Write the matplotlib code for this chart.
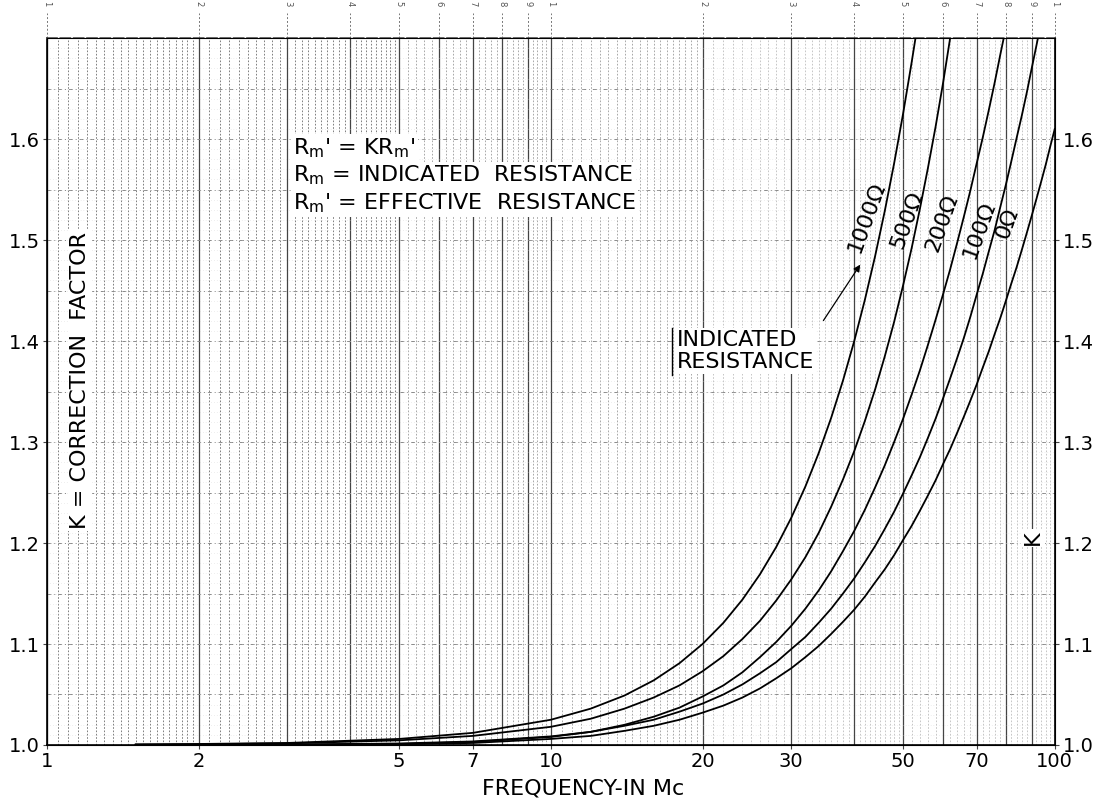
import numpy as np
import matplotlib.pyplot as plt
from matplotlib.transforms import blended_transform_factory

# correction factor K, one list pair per indicated resistance
freq_1000 = [1.5, 2, 3, 5, 7, 10, 12, 14, 16, 18, 20, 22, 24, 26, 28, 30,
             32, 34, 36, 38, 40, 42, 44, 46, 48, 50, 52, 53]
k_1000 = [1.0006, 1.001, 1.002, 1.006, 1.012, 1.025, 1.036, 1.049, 1.064,
          1.081, 1.100, 1.121, 1.144, 1.169, 1.196, 1.225, 1.256, 1.289,
          1.324, 1.361, 1.400, 1.441, 1.484, 1.529, 1.576, 1.625, 1.676, 1.702]

freq_500 = [1.5, 2, 3, 5, 7, 10, 12, 14, 16, 18, 20, 22, 24, 26, 28, 30,
            32, 34, 36, 38, 40, 42, 44, 46, 48, 50, 52, 54, 56, 58, 60, 62]
k_500 = [1.0004, 1.0007, 1.0016, 1.0046, 1.009, 1.018, 1.026, 1.036, 1.047,
         1.059, 1.073, 1.088, 1.105, 1.123, 1.143, 1.164, 1.186, 1.210,
         1.236, 1.263, 1.291, 1.321, 1.352, 1.385, 1.419, 1.455, 1.492,
         1.531, 1.571, 1.612, 1.655, 1.700]

freq_200 = [1.5, 2, 3, 5, 7, 10, 12, 14, 16, 18, 20, 22, 24, 26, 28, 30,
            32, 34, 36, 38, 40, 42, 44, 46, 48, 50, 52, 54, 56, 58, 60, 62,
            64, 66, 68, 70, 72, 74, 76, 78, 79.2]
k_200 = [1.000, 1.000, 1.0002, 1.001, 1.003, 1.008, 1.013, 1.020, 1.028,
         1.037, 1.048, 1.059, 1.072, 1.087, 1.102, 1.118, 1.135, 1.153,
         1.172, 1.192, 1.212, 1.233, 1.255, 1.277, 1.300, 1.323, 1.347,
         1.371, 1.396, 1.421, 1.446, 1.471, 1.497, 1.523, 1.549, 1.576,
         1.602, 1.629, 1.656, 1.684, 1.700]

freq_100 = [1.5, 2, 3, 5, 7, 10, 12, 14, 16, 18, 20, 22, 24, 26, 28, 30,
            32, 34, 36, 38, 40, 42, 44, 46, 48, 50, 52, 54, 56, 58, 60, 62,
            64, 66, 68, 70, 72, 74, 76, 78, 80, 82, 84, 86, 88, 90, 92, 92.6]
k_100 = [1.000, 1.000, 1.0004, 1.0015, 1.0035, 1.0085, 1.013, 1.019, 1.025,
         1.033, 1.041, 1.050, 1.060, 1.071, 1.082, 1.095, 1.107, 1.121,
         1.135, 1.150, 1.165, 1.181, 1.197, 1.214, 1.231, 1.249, 1.267,
         1.285, 1.304, 1.323, 1.343, 1.363, 1.383, 1.403, 1.424, 1.446,
         1.467, 1.489, 1.510, 1.533, 1.555, 1.578, 1.601, 1.623, 1.646,
         1.670, 1.693, 1.700]

freq_0 = [1.5, 2, 3, 5, 7, 10, 12, 14, 16, 18, 20, 22, 24, 26, 28, 30, 32,
          34, 36, 38, 40, 42, 44, 46, 48, 50, 52, 54, 56, 58, 60, 62, 64, 66,
          68, 70, 72, 74, 76, 78, 80, 82, 84, 86, 88, 90, 92, 94, 96, 98, 100]
k_0 = [1.000, 1.000, 1.0002, 1.0008, 1.002, 1.006, 1.009, 1.014, 1.019,
       1.025, 1.032, 1.039, 1.047, 1.056, 1.066, 1.076, 1.087, 1.098, 1.110,
       1.122, 1.134, 1.147, 1.161, 1.174, 1.188, 1.203, 1.217, 1.232, 1.247,
       1.262, 1.278, 1.293, 1.309, 1.325, 1.341, 1.357, 1.374, 1.390, 1.407,
       1.423, 1.440, 1.457, 1.473, 1.490, 1.507, 1.524, 1.541, 1.558, 1.575,
       1.593, 1.610]

curve_labels = ['1000Ω', '500Ω', '200Ω', '100Ω', '0Ω']

x_ticks = [1, 2, 5, 7, 10, 20, 30, 50, 70, 100]
x_tick_labels = ['1', '2', '5', '7', '10', '20', '30', '50', '70', '100']
y_ticks = [1.0, 1.1, 1.2, 1.3, 1.4, 1.5, 1.6]
y_tick_labels = ['1.0', '1.1', '1.2', '1.3', '1.4', '1.5', '1.6']
paper_digits = ['1', '2', '3', '4', '5', '6', '7', '8', '9',
                '1', '2', '3', '4', '5', '6', '7', '8', '9', '1']

plt.rcParams['font.family'] = ['DejaVu Sans']
FS = 16

fig = plt.figure(figsize=(10.93, 8.06), dpi=100)
ax = fig.add_axes([0.043, 0.0757, 0.922, 0.877])
ax.set_xscale('log')
ax.set_xlim(1, 100)
ax.set_ylim(1.0, 1.7)

# graph paper: vertical rulings, dense on the left, faint on the right
vlines = np.concatenate([np.arange(1, 2, 0.05), np.arange(2, 5, 0.1),
                         np.arange(5, 10, 0.2), np.arange(10, 20, 0.5),
                         np.arange(20, 50, 1), np.arange(50, 100, 2)])
for v in vlines:
    col = '#6a6a6a' if v < 5 else ('#9a9a9a' if v < 20 else '#bdbdbd')
    ax.axvline(v, color=col, lw=0.6, ls=(0, (2, 2)), zorder=1)
for d in [1, 10]:
    for m in range(1, 10):
        ax.axvline(d * m, color='#444444', lw=0.9, ls='-', zorder=1)

# horizontal rulings
for h in np.arange(1.0, 1.701, 0.05):
    ax.axhline(h, color='#8a8a8a', lw=0.7, ls=(0, (4, 3, 1, 3)), zorder=1)
for h in np.arange(1.0, 1.701, 0.01):
    ax.axhline(h, color='#cccccc', lw=0.4, ls=(0, (1, 4)), zorder=1)

# curves
series = [(freq_1000, k_1000), (freq_500, k_500), (freq_200, k_200),
          (freq_100, k_100), (freq_0, k_0)]
for f, k in series:
    ax.plot(f, k, color='black', lw=1.3, zorder=3)

# curve labels along the lines
label_xy = [(42.3, 1.523), (50.8, 1.520), (59.8, 1.517), (70.8, 1.510), (80.3, 1.517)]
for (lx, ly), txt in zip(label_xy, curve_labels):
    ax.text(lx, ly, txt, rotation=70, fontsize=FS, ha='center', va='center',
            zorder=4)

# axes styling
for s in ax.spines.values():
    s.set_linewidth(1.2)
ax.spines['top'].set_color('#555555')
ax.spines['top'].set_linestyle((0, (6, 2)))
ax.set_xticks(x_ticks)
ax.set_xticklabels(x_tick_labels, fontsize=14)
ax.set_xticks([], minor=True)
ax.set_yticks(y_ticks)
ax.set_yticklabels(y_tick_labels, fontsize=14)
ax.tick_params(axis='both', length=3, width=0.8, color='#444444', pad=2)
ax.text(0.532, -0.062, 'FREQUENCY-IN Mc', transform=ax.transAxes,
        fontsize=FS, ha='center', va='center')

axr = ax.twinx()
axr.set_ylim(1.0, 1.7)
axr.set_yticks(y_ticks)
axr.set_yticklabels(y_tick_labels, fontsize=14)
axr.tick_params(axis='y', length=3, width=0.8, color='#444444', pad=3)

# paper numbering above the top border
trans = blended_transform_factory(ax.transData, ax.transAxes)
top_pos = [m * d for d in [1, 10] for m in range(1, 10)] + [100]
for p, t in zip(top_pos, paper_digits):
    ax.plot([p, p], [1.0, 1.035], transform=trans, color='#777777', lw=0.7,
            ls=(0, (2, 2)), clip_on=False)
    ax.text(p, 1.045, t, transform=trans, rotation=-90, fontsize=6,
            color='#555555', ha='center', va='bottom')

# text blocks
box = dict(facecolor='white', edgecolor='none', pad=1.5)
ax.text(3.08, 1.591, r"$\mathregular{R_m}$' = K$\mathregular{R_m}$'", fontsize=FS,
        va='center', bbox=box, zorder=4)
ax.text(3.08, 1.564, r"$\mathregular{R_m}$ = INDICATED  RESISTANCE", fontsize=FS,
        va='center', bbox=box, zorder=4)
ax.text(3.08, 1.537, r"$\mathregular{R_m}$' = EFFECTIVE  RESISTANCE", fontsize=FS,
        va='center', bbox=box, zorder=4)

ax.text(1.163, 1.361, 'K = CORRECTION  FACTOR', rotation=90, fontsize=FS,
        ha='center', va='center', bbox=box, zorder=4)
ax.text(90.5, 1.205, 'K', rotation=90, fontsize=FS, ha='center', va='center',
        bbox=box, zorder=4)

ax.text(17.8, 1.39, 'INDICATED\nRESISTANCE', fontsize=FS, ha='left',
        va='center', linespacing=1.15, bbox=box, zorder=4)
ax.plot([17.4, 17.4], [1.366, 1.413], color='black', lw=1.0, zorder=5)
ax.annotate('', xy=(41.4, 1.478), xytext=(34.5, 1.418),
            arrowprops=dict(arrowstyle='-|>', lw=0.9, color='black',
                            mutation_scale=10), zorder=5)

fig.savefig('out.png', dpi=100)
